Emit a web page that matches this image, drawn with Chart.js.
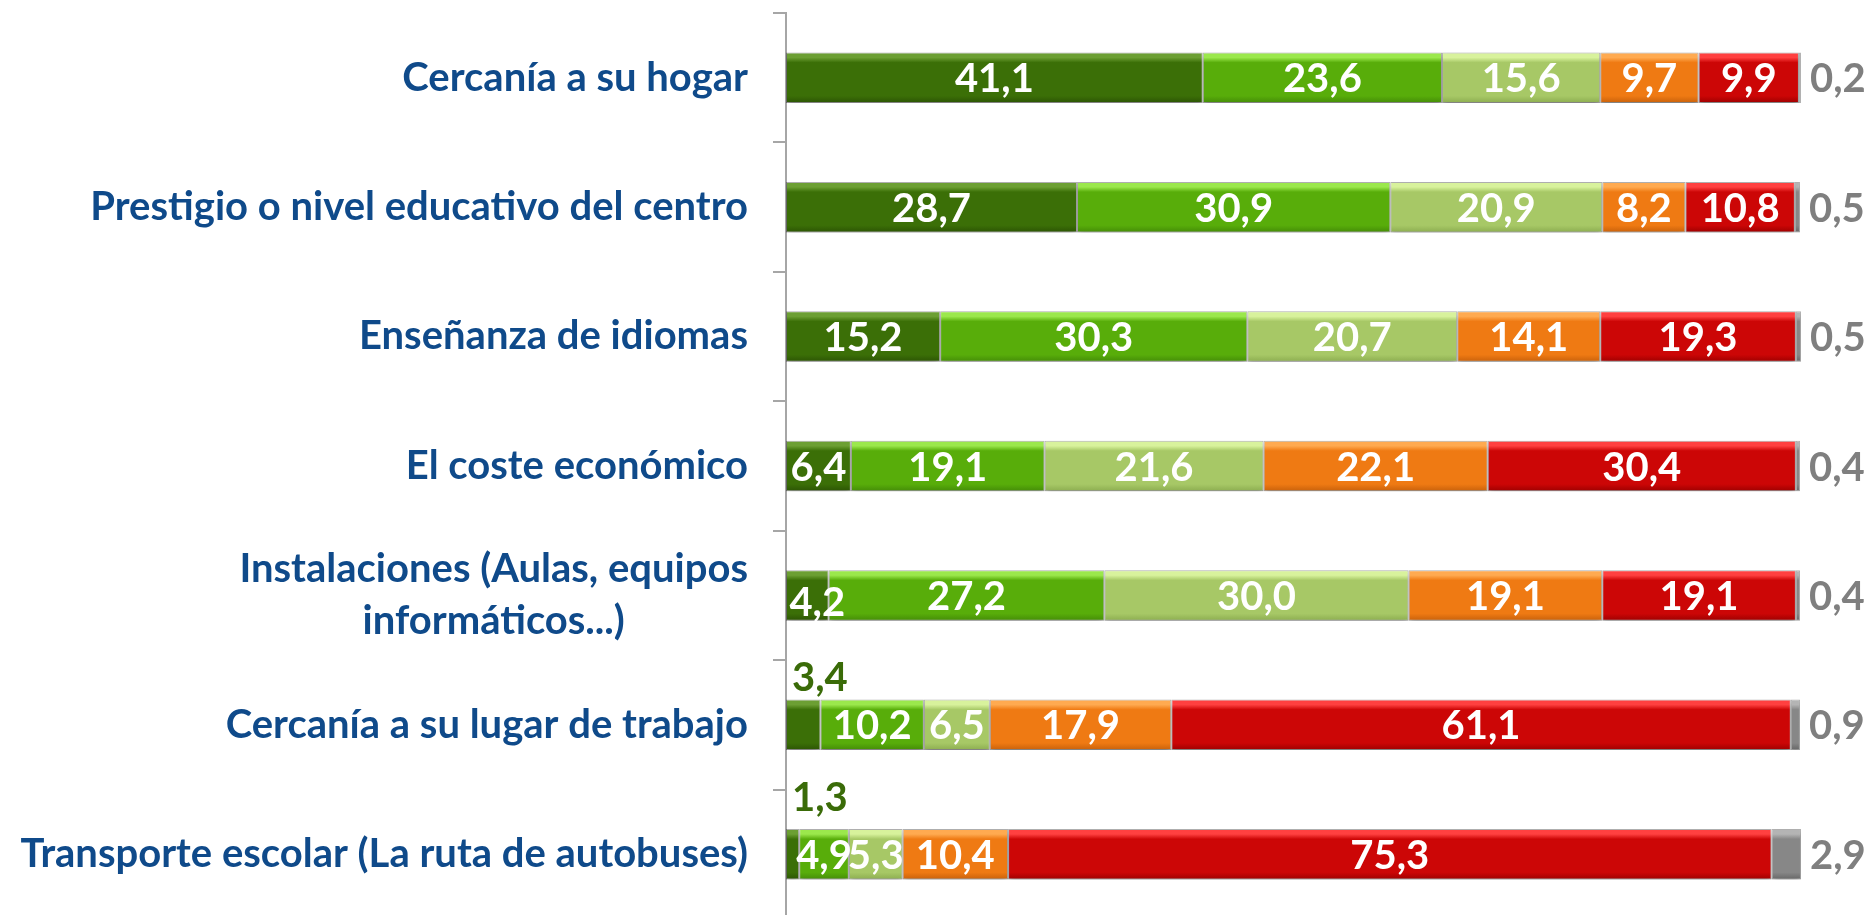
<!DOCTYPE html>
<html>
<head>
<meta charset="utf-8">
<script src="https://cdn.jsdelivr.net/npm/chart.js@4.4.1/dist/chart.umd.min.js"></script>
<style>
  html, body { margin: 0; padding: 0; background: #ffffff; overflow: hidden; }
  #wrap { width: 1871px; height: 915px; overflow: hidden; }
</style>
</head>
<body>
<div id="wrap"><canvas id="c" width="1871" height="920"></canvas></div>
<script>
// ---- data ----
const categories = [
  'Cercanía a su hogar',
  'Prestigio o nivel educativo del centro',
  'Enseñanza de idiomas',
  'El coste económico',
  ['Instalaciones (Aulas, equipos', 'informáticos...)'],
  'Cercanía a su lugar de trabajo',
  'Transporte escolar (La ruta de autobuses)'
];
const seriesNames = ['Mucho', 'Bastante', 'Regular', 'Poco', 'Nada', 'NS/NC'];
const mucho    = [41.1, 28.7, 15.2, 6.4, 4.2, 3.4, 1.3];
const bastante = [23.6, 30.9, 30.3, 19.1, 27.2, 10.2, 4.9];
const regular  = [15.6, 20.9, 20.7, 21.6, 30.0, 6.5, 5.3];
const poco     = [9.7, 8.2, 14.1, 22.1, 19.1, 17.9, 10.4];
const nada     = [9.9, 10.8, 19.3, 30.4, 19.1, 61.1, 75.3];
const nsnc     = [0.2, 0.5, 0.5, 0.4, 0.4, 0.9, 2.9];
const seriesValues = [mucho, bastante, regular, poco, nada, nsnc];

// ---- style ----
const palette = [
  { base: '#3B6F07', light: '#6C9F33', dark: '#2C5404' },
  { base: '#58AD0A', light: '#9BE84C', dark: '#448C07' },
  { base: '#A7C866', light: '#D8F29C', dark: '#8CAD50' },
  { base: '#EF7A13', light: '#FFAA50', dark: '#C8610B' },
  { base: '#CC0606', light: '#FF4040', dark: '#9E0000' },
  { base: '#878787', light: '#B4B4B4', dark: '#666666' }
];
const BAR_FRAC = 0.39;
const FONT = 'Lato, "Open Sans", sans-serif';

function fmt(v) { return v.toFixed(1).replace('.', ','); }

function bevel(ctx, p) {
  const chart = ctx.chart;
  const ys = chart.scales && chart.scales.y;
  if (!chart.chartArea || !ys || ys.height == null) return p.base;
  const yc = ys.getPixelForValue(ctx.dataIndex);
  const h = ys.height / categories.length * BAR_FRAC;
  const g = chart.ctx.createLinearGradient(0, yc - h / 2, 0, yc + h / 2);
  g.addColorStop(0, p.light);
  g.addColorStop(0.10, p.light);
  g.addColorStop(0.20, p.base);
  g.addColorStop(0.86, p.base);
  g.addColorStop(1, p.dark);
  return g;
}

const shadowPlugin = {
  id: 'shadow',
  beforeDatasetsDraw(chart) {
    const c = chart.ctx;
    c.save();
    c.shadowColor = 'rgba(0,0,0,0.30)';
    c.shadowBlur = 6;
    c.shadowOffsetX = 0;
    c.shadowOffsetY = 4;
  },
  afterDatasetsDraw(chart) {
    chart.ctx.restore();
  }
};

const catLabelPlugin = {
  id: 'catLabels',
  afterDraw(chart, args, opts) {
    const c = chart.ctx;
    const ys = chart.scales.y;
    c.save();
    c.font = 'bold ' + opts.size + 'px ' + FONT;
    c.fillStyle = opts.color;
    c.textBaseline = 'middle';
    const right = chart.chartArea.left - opts.gap;
    categories.forEach((lab, i) => {
      const yc = ys.getPixelForTick(i);
      const lines = Array.isArray(lab) ? lab : [lab];
      const w = Math.max(...lines.map(l => c.measureText(l).width));
      const cx = right - w / 2;
      c.textAlign = 'center';
      lines.forEach((l, k) => {
        const y = yc + (k - (lines.length - 1) / 2) * opts.lineHeight;
        c.fillText(l, cx, y);
      });
    });
    c.restore();
  }
};

const valueLabelPlugin = {
  id: 'valueLabels',
  afterDatasetsDraw(chart, args, opts) {
    const c = chart.ctx;
    c.save();
    c.font = 'bold ' + opts.size + 'px ' + FONT;
    const asc = c.measureText('0123456789').actualBoundingBoxAscent;
    chart.data.datasets.forEach((ds, di) => {
      const meta = chart.getDatasetMeta(di);
      meta.data.forEach((bar, i) => {
        const v = ds.data[i];
        const txt = fmt(v);
        const left = Math.min(bar.x, bar.base);
        const right = Math.max(bar.x, bar.base);
        const top = bar.y - bar.height / 2;
        const key = di + '-' + i;
        if (di === seriesValues.length - 1) {
          c.fillStyle = opts.outsideColor;
          c.textAlign = 'left';
          c.fillText(txt, right + opts.endGap, bar.y + asc / 2);
        } else if (opts.above[key] !== undefined) {
          c.fillStyle = opts.aboveColor;
          c.textAlign = 'left';
          c.fillText(txt, left + opts.aboveDx, top - opts.above[key]);
        } else {
          const n = opts.nudge[key] || [0, 0];
          c.fillStyle = '#ffffff';
          c.textAlign = 'center';
          c.fillText(txt, (left + right) / 2 + n[0], bar.y + asc / 2 + n[1]);
        }
      });
    });
    c.restore();
  }
};

const datasets = seriesValues.map((vals, k) => ({
  label: seriesNames[k],
  data: vals,
  backgroundColor: (ctx) => bevel(ctx, palette[k]),
  borderColor: 'rgba(0,0,0,0.30)',
  borderWidth: 1,
  borderSkipped: false,
  barPercentage: BAR_FRAC,
  categoryPercentage: 1
}));

new Chart(document.getElementById('c'), {
  type: 'bar',
  data: { labels: categories, datasets },
  options: {
    indexAxis: 'y',
    responsive: false,
    animation: false,
    layout: { padding: { left: 773, right: 69, top: 13, bottom: 1 } },
    scales: {
      x: { stacked: true, display: false, min: 0, max: 100.2 },
      y: {
        stacked: true,
        offset: true,
        grid: { offset: true, drawOnChartArea: false, drawTicks: true, tickLength: 13, color: '#A6A6A6', lineWidth: 2 },
        border: { display: true, color: '#A6A6A6', width: 2 },
        ticks: { display: false }
      }
    },
    plugins: {
      legend: { display: false },
      tooltip: { enabled: false },
      catLabels: { size: 40, color: '#0F4A8A', gap: 38, lineHeight: 52 },
      valueLabels: {
        size: 40,
        outsideColor: '#7F7F7F',
        aboveColor: '#3A6B08',
        endGap: 9,
        aboveDx: 6,
        above: { '0-5': 9, '0-6': 18 },
        nudge: { '0-4': [10, 6] }
      }
    }
  },
  plugins: [shadowPlugin, catLabelPlugin, valueLabelPlugin]
});
</script>
</body>
</html>
